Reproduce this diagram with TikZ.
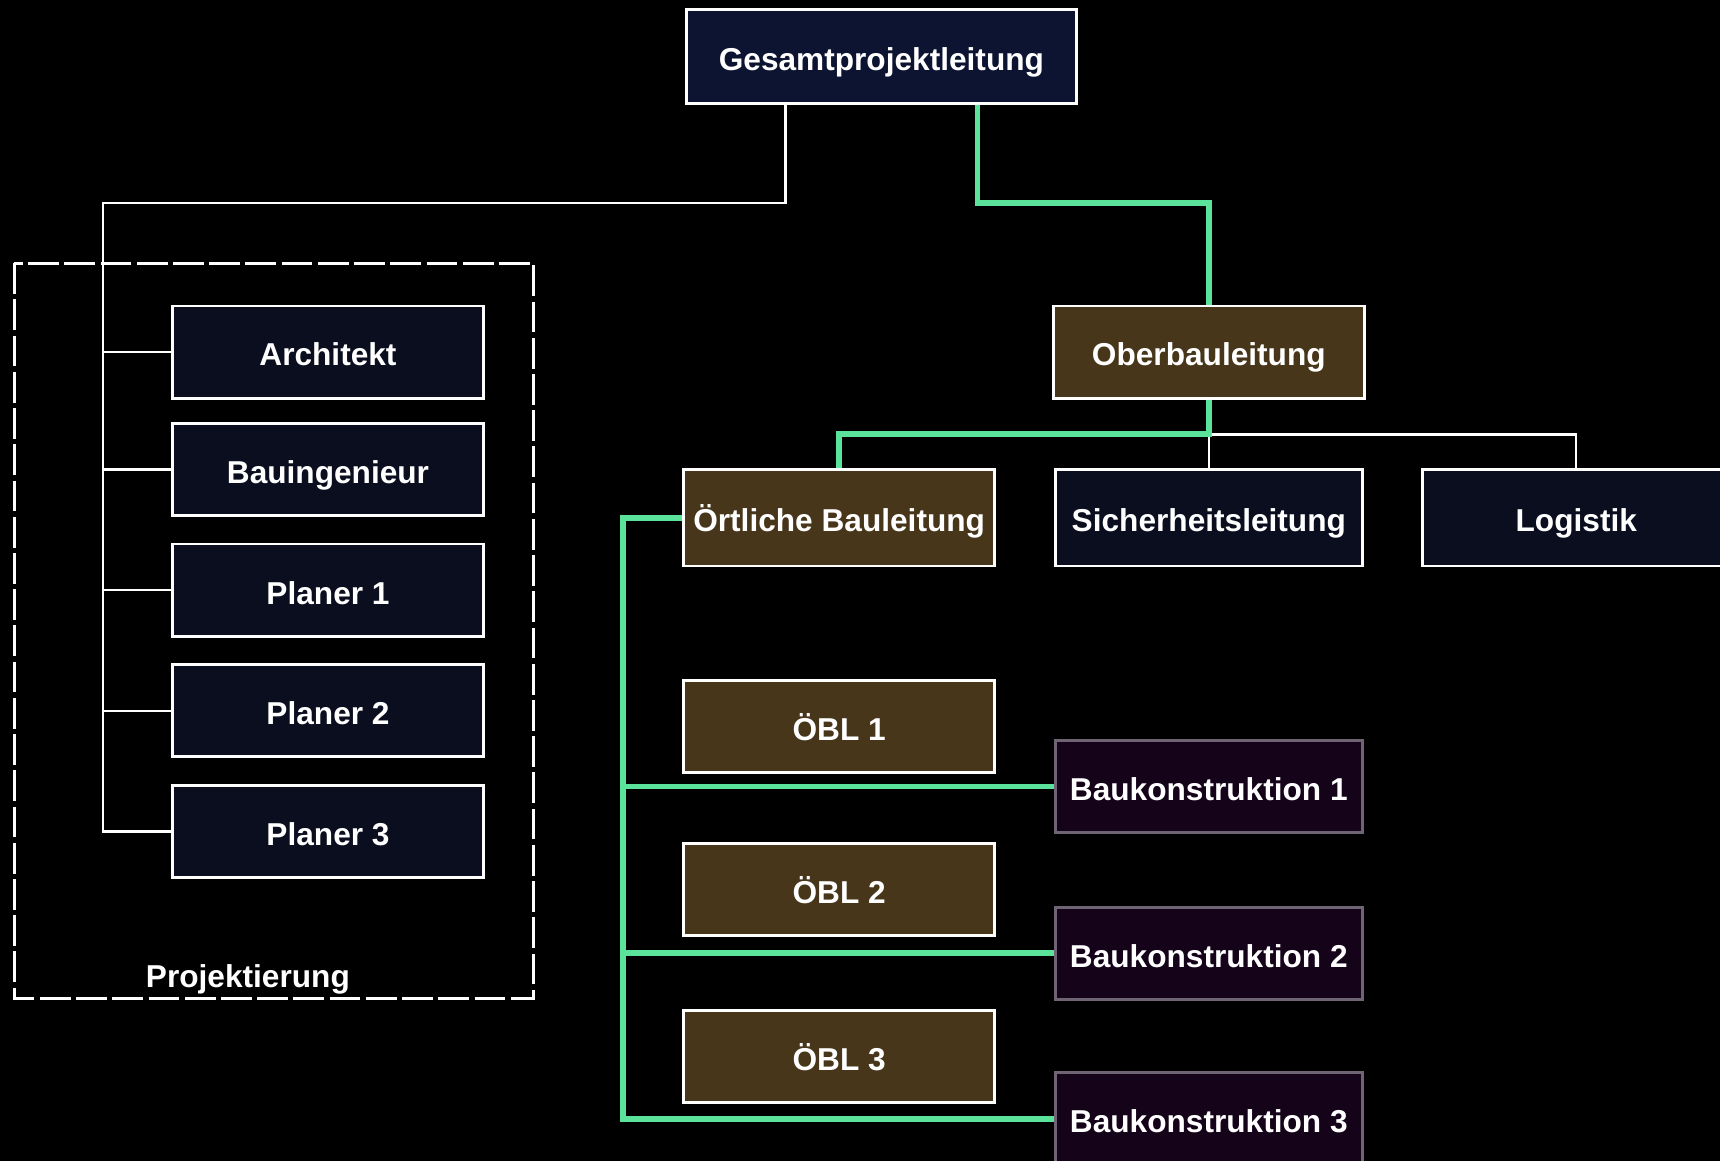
\documentclass[tikz,border=0pt]{standalone}
\usepackage{fontspec}
\setmainfont{Liberation Sans}
\usetikzlibrary{positioning}

\definecolor{leadnavy}{HTML}{0D1431}
\definecolor{plannavy}{HTML}{0A0E1F}
\definecolor{sitebrown}{HTML}{47361A}
\definecolor{workpurple}{HTML}{15031A}
\definecolor{workborder}{HTML}{6F6474}
\definecolor{sitegreen}{HTML}{5BE39B}

\begin{document}
\begin{tikzpicture}[x=0.01cm,y=-0.01cm]
        \tikzstyle{box}=[draw=white, line width=0.75pt, text=white, font=\bfseries\fontsize{8.2}{10}\selectfont, inner sep=0pt, text height=0.8em, text depth=0.08em, minimum height=0.84cm]
        \tikzstyle{lead box}=[box, fill=leadnavy, minimum width=3.55cm, minimum height=0.85cm]
        \tikzstyle{plan box}=[box, fill=plannavy, minimum width=2.84cm]
        \tikzstyle{site box}=[box, fill=sitebrown, minimum width=2.83cm]
        \tikzstyle{work box}=[box, fill=workpurple, draw=workborder, minimum width=2.8cm]
        \tikzstyle{tree}=[draw=white, line width=0.6pt]
        \tikzstyle{site line}=[draw=sitegreen, line width=1.5pt]

        \fill[black] (0,0) rectangle (1568,1058);
        \clip (0,0) rectangle (1568,1058);

        % Top
        \node[lead box] (G) at (803.5,51.5) {Gesamtprojektleitung};

        % Projektierung
        \draw[white, line width=0.75pt, dash pattern=on 0.28cm off 0.05cm] (13,240) rectangle (486,910);
        \node[text=white, font=\bfseries\fontsize{8.2}{10}\selectfont, text height=0.8em, text depth=0.08em, inner sep=0pt] (proj) at (226,888) {Projektierung};
        \foreach \name / \y / \txt in {A/321/Architekt, B/428/Bauingenieur, P1/538/Planer 1, P2/648/Planer 2, P3/758/Planer 3}
            \node[plan box] (\name) at (299,\y) {\txt};

        % Bauleitung
        \node[site box] (O) at (1102,321) {Oberbauleitung};
        \node[site box, minimum height=0.88cm] (OeB) at (765,472) {Örtliche Bauleitung};
        \node[plan box, minimum width=2.8cm, minimum height=0.88cm] (S) at (1102,472) {Sicherheitsleitung};
        \node[plan box, minimum width=2.8cm, minimum height=0.88cm] (L) at (1437,472) {Logistik};
        \foreach \name / \y in {1/662,2/811,3/963}
            \node[site box] (OeBL-\name) at (765,\y) {ÖBL \name};
        \foreach \name / \y in {1/717,2/869,3/1020}
            \node[work box] (W-\name) at (1102,\y) {Baukonstruktion \name};

        % Connect nodes
        \coordinate (plan bus) at (94,185);
        \coordinate (ober bus) at (1102,185);
        \coordinate (mid bus) at (1102,396);
        \coordinate (site bus) at (568,0);

        \draw[tree] ([xshift=-0.875cm]G.south) |- (plan bus) |- (P3.west);
        \foreach \name in {A,B,P1,P2}
            \draw[tree] (\name.west -| plan bus) -- (\name.west);

        \draw[tree] (mid bus) -| (L.north);
        \draw[tree] (mid bus) -- (S.north);

        \draw[site line] ([xshift=0.875cm]G.south) |- (ober bus) -- (O.north);
        \draw[site line] (O.south) -- (mid bus) -| (OeB.north);
        \draw[site line] (OeB.west) -| (site bus |- W-3.west) -- (W-3.west);
        \foreach \name in {1,2}
            \draw[site line] (W-\name.west -| site bus) -- (W-\name.west);

\end{tikzpicture}
\end{document}
